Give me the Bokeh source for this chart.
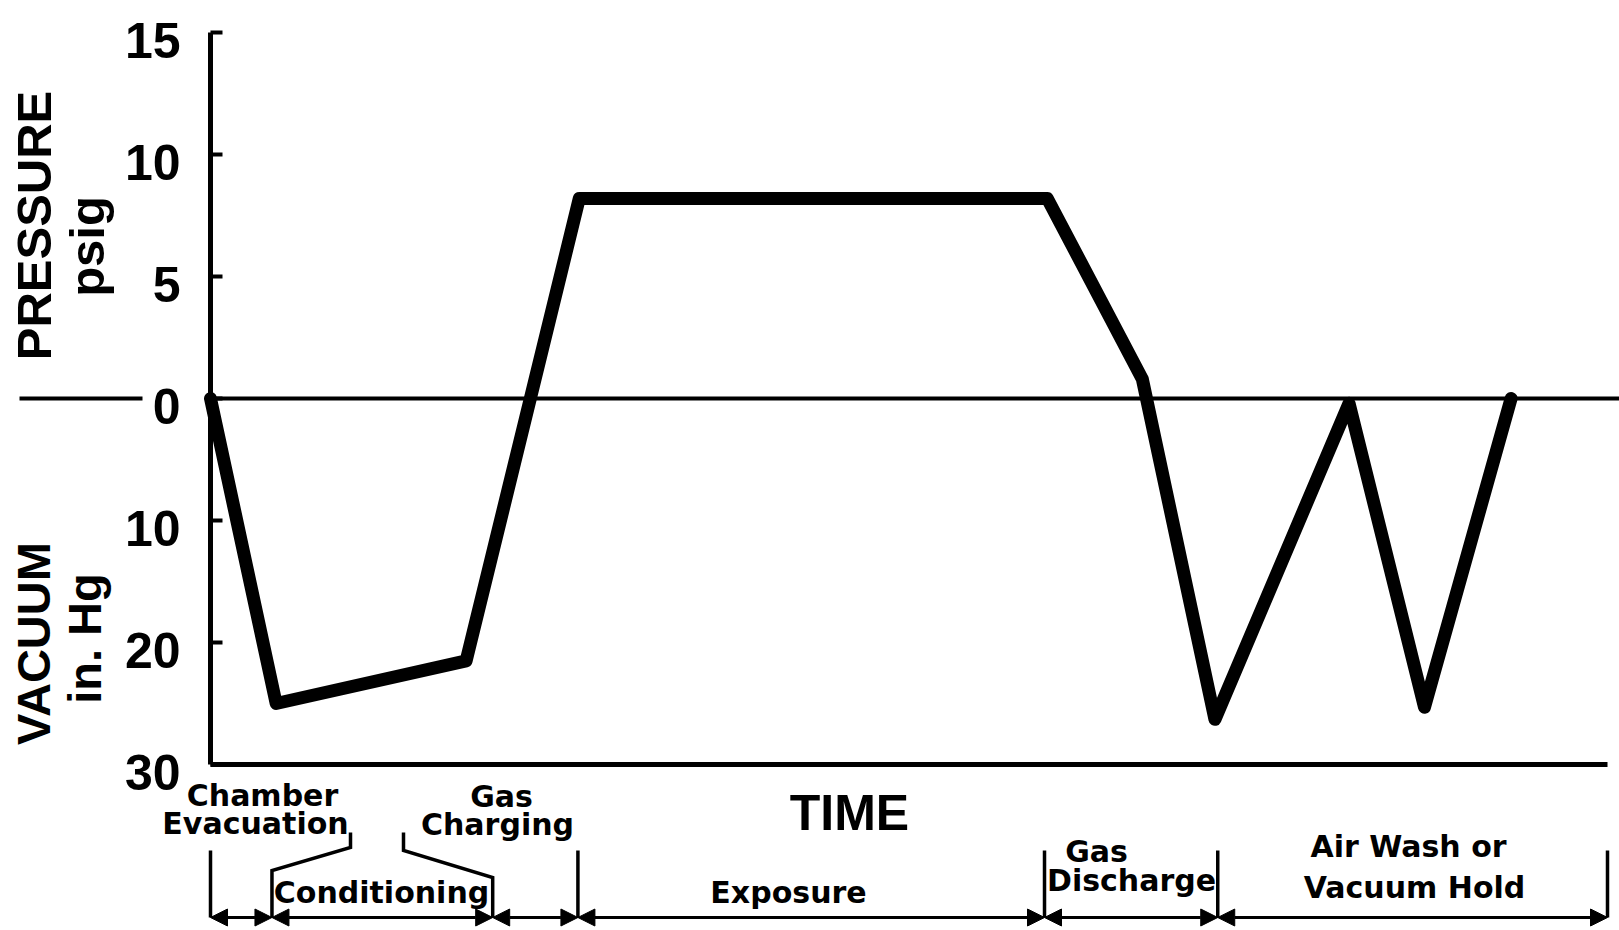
import numpy as np
from bokeh.plotting import figure
from bokeh.models import (Range1d, LinearAxis, FixedTicker, Arrow, NormalHead,
                          ColumnDataSource)
from bokeh.core.properties import value
from bokeh.embed import file_html
from bokeh.resources import INLINE

# ---------------- data ----------------
# time in arbitrary units (0..100 along the TIME axis)
curve_time = [0, 4.7, 18.3, 26.4, 59.9, 66.7, 71.9, 81.5, 86.9, 93.1]
# reading: psig above atmospheric, inches Hg of vacuum below
curve_reading = [0, 25.0, 21.5, 8.2, 8.2, 0.8, 26.3, 0.4, 25.3, 0.0]
curve_unit = ["psig", "inHg", "inHg", "psig", "psig", "psig",
              "inHg", "inHg", "inHg", "psig"]

pressure_ticks = [15, 10, 5, 0]      # psig
vacuum_ticks = [10, 20, 30]          # in. Hg

phase_bounds = [0, 4.4, 20.2, 26.3, 59.7, 72.1, 100]
phase_label_lines = ["Chamber", "Evacuation", "Conditioning", "Gas", "Charging",
                     "Exposure", "Gas", "Discharge", "Air Wash or", "Vacuum Hold"]

# ---------------- layout helpers (page pixels -> data units) -------------
PX_T = 13.97      # pixels per time unit
T0_PX = 210       # page x of time 0
PX_Y = 24.4       # pixels per psig (= 2 in. Hg)
Y0_PX = 398       # page y of zero pressure


def X(px):
    return (px - T0_PX) / PX_T


def Y(px):
    return (Y0_PX - px) / PX_Y


def to_y(v, u):
    return v if u == "psig" else -v / 2.0


curve_y = [to_y(v, u) for v, u in zip(curve_reading, curve_unit)]

W, H = 1619, 930
p = figure(width=W, height=H, title=None,
           x_range=Range1d(X(0), X(W)), y_range=Range1d(Y(H), Y(0)),
           x_axis_type=None, y_axis_type=None, output_backend="svg",
           toolbar_location=None, min_border=0)
p.outline_line_color = None
p.background_fill_color = "white"
p.border_fill_color = "white"

# ---------------- axes ----------------
tick_vals = pressure_ticks + [-v / 2.0 for v in vacuum_ticks]
tick_text = [str(v) for v in pressure_ticks] + [str(v) for v in vacuum_ticks]

yaxis = LinearAxis(fixed_location=0, ticker=FixedTicker(ticks=tick_vals),
                   major_label_overrides={t: "" for t in tick_vals}, bounds=(-15, 15))
yaxis.axis_line_width = 5
yaxis.axis_line_color = "black"
yaxis.major_tick_in = 12
yaxis.major_tick_out = 0
yaxis.major_tick_line_width = 4
yaxis.minor_tick_line_color = None
yaxis.major_label_text_font_size = "1px"
p.add_layout(yaxis, "left")

xaxis = LinearAxis(fixed_location=-15, ticker=FixedTicker(ticks=[]), bounds=(0, 100))
xaxis.axis_line_width = 5
xaxis.axis_line_color = "black"
xaxis.major_tick_line_color = None
xaxis.minor_tick_line_color = None
xaxis.major_label_text_font_size = "1px"
p.add_layout(xaxis, "below")

# tick labels, set slightly below their ticks as in the original drawing
p.text(x=[0] * len(tick_vals), y=tick_vals, text=tick_text, x_offset=-30, y_offset=8,
       text_font=value("Liberation Sans"), text_font_style="bold",
       text_font_size="50px", text_align="right", text_baseline="middle",
       text_color="black")

# zero reference line (left stub + through the plot)
p.segment(x0=[X(19), 0], y0=[0, 0], x1=[X(142), X(W + 10)], y1=[0, 0],
          line_color="black", line_width=4)

# ---------------- the pressure curve ----------------
p.line(curve_time, curve_y, line_color="black", line_width=13, line_join="round",
       line_cap="round")

# ---------------- axis titles ----------------
bold = dict(text_font_style="bold", text_color="black", text_align="center",
            text_baseline="middle")
p.text(x=[X(33), X(86)], y=[Y(225), Y(246)], text=["PRESSURE", "psig"],
       angle=np.pi / 2, text_font=value("Liberation Sans"), text_font_size="49px", **bold)
p.text(x=[X(33), X(84)], y=[Y(643), Y(638)], text=["VACUUM", "in. Hg"],
       angle=np.pi / 2, text_font=value("Liberation Sans"), text_font_size="47px", **bold)
p.text(x=[X(849)], y=[Y(812)], text=["TIME"], text_font=value("Liberation Sans"),
       text_font_size="50px", **bold)

# ---------------- phase annotations ----------------
label_x_px = [262, 255, 381, 501, 497, 788, 1096, 1131, 1408, 1414]
label_y_px = [795, 823, 892, 796, 824, 892, 851, 880, 846, 887]
p.text(x=[X(v) for v in label_x_px], y=[Y(v) for v in label_y_px],
       text=phase_label_lines, text_font=value("DejaVu Sans"),
       text_font_size="30px", **bold)

ARROW_Y = Y(917)
TOP_Y = Y(850)
# plain boundary markers
plain = [phase_bounds[i] for i in (0, 3, 4, 5, 6)]
p.segment(x0=plain, y0=[TOP_Y] * len(plain), x1=plain, y1=[ARROW_Y] * len(plain),
          line_color="black", line_width=3.5)
# conditioning brackets
b1, b2 = phase_bounds[1], phase_bounds[2]
p.multi_line(xs=[[X(350), X(350), b1, b1], [X(403), X(403), b2, b2]],
             ys=[[Y(832), Y(847), Y(870), ARROW_Y], [Y(832), Y(850), Y(877), ARROW_Y]],
             line_color="black", line_width=3.5, line_join="miter")

# double-headed arrows for each phase
src = ColumnDataSource(dict(xs=phase_bounds[:-1], xe=phase_bounds[1:],
                            ys=[ARROW_Y] * (len(phase_bounds) - 1),
                            ye=[ARROW_Y] * (len(phase_bounds) - 1)))
head = dict(size=17, fill_color="black", line_color="black", line_width=1)
p.add_layout(Arrow(start=NormalHead(**head), end=NormalHead(**head),
                   x_start="xs", y_start="ys", x_end="xe", y_end="ye",
                   source=src, line_color="black", line_width=3))

open("out.html", "w").write(file_html(p, INLINE))
